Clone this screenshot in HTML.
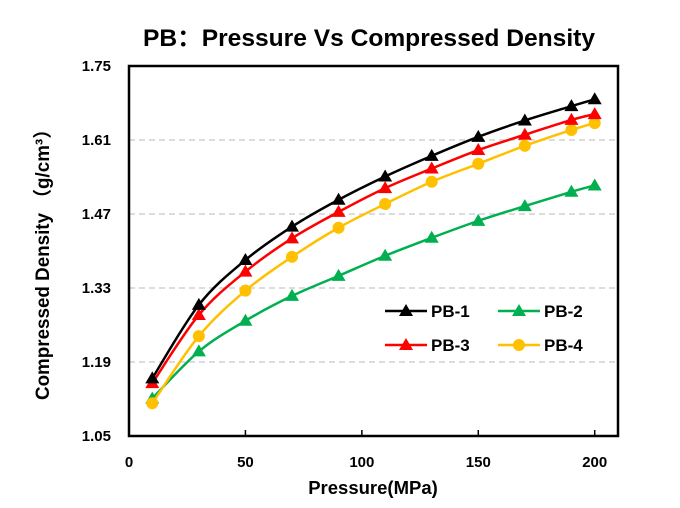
<!DOCTYPE html>
<html><head><meta charset="utf-8"><style>
body{margin:0;background:#fff}
svg text{font-family:"Liberation Sans","Noto Sans CJK SC",sans-serif;font-weight:bold}
</style></head><body>
<svg id="c" width="680" height="503"></svg>
<script>
const xValues=[10,30,50,70,90,110,130,150,170,190,200];
const pb1=[1.159,1.298,1.383,1.446,1.497,1.541,1.580,1.616,1.647,1.674,1.687];
const pb2=[1.121,1.210,1.268,1.315,1.353,1.391,1.425,1.457,1.485,1.512,1.524];
const pb3=[1.150,1.279,1.361,1.424,1.474,1.519,1.556,1.591,1.620,1.648,1.659];
const pb4=[1.112,1.239,1.325,1.389,1.444,1.489,1.531,1.565,1.599,1.629,1.642];
const xTicks=[0,50,100,150,200];
const yTicks=[1.05,1.19,1.33,1.47,1.61,1.75];
const NS="http://www.w3.org/2000/svg",svg=document.getElementById('c');
const L=129,R=618,T=66,B=436,xMax=210;
const X=v=>L+v/xMax*(R-L), Y=v=>B-(v-1.05)/0.70*(B-T);
function el(t,a,p){const e=document.createElementNS(NS,t);for(const k in a)e.setAttribute(k,a[k]);(p||svg).appendChild(e);return e;}
function txt(s,a){const e=el('text',a);e.textContent=s;return e;}
const t=txt('PB：Pressure Vs Compressed Density',{x:369,y:46,'text-anchor':'middle','font-size':24,textLength:452,lengthAdjust:'spacingAndGlyphs'});

yTicks.forEach(v=>{
 if(v>1.05&&v<1.75){const g=el('line',{x1:L,x2:R,y1:Y(v),y2:Y(v),stroke:'#d0d0d0','stroke-width':1.5,'stroke-dasharray':'6,4'});
 }
 const l=txt(v.toFixed(2),{x:111,y:Y(v)+5,'text-anchor':'end','font-size':15});
 
});
xTicks.forEach(v=>{
 const k=el('line',{x1:X(v),x2:X(v),y1:B,y2:B-6,stroke:'#000','stroke-width':1.5});
 
 const l=txt(String(v),{x:X(v),y:467,'text-anchor':'middle','font-size':15});
 
});
const fr=el('rect',{x:L,y:T,width:R-L,height:B-T,fill:'none',stroke:'#000','stroke-width':2.5});

const xt=txt('Pressure(MPa)',{x:373,y:494,'text-anchor':'middle','font-size':18.5});

const yt=txt('Compressed Density （g/cm³）',{x:0,y:0,'text-anchor':'middle','font-size':19,textLength:280,lengthAdjust:'spacingAndGlyphs',transform:'translate(49,260) rotate(-90)'});

function path(vals){const p=xValues.map((x,i)=>[X(x),Y(vals[i])]);let d='M'+p[0];
 for(let i=0;i<p.length-1;i++){const p0=p[i-1]||p[i],p1=p[i],p2=p[i+1],p3=p[i+2]||p2;
  d+=' C'+(p1[0]+(p2[0]-p0[0])/6)+','+(p1[1]+(p2[1]-p0[1])/6)+' '+(p2[0]-(p3[0]-p1[0])/6)+','+(p2[1]-(p3[1]-p1[1])/6)+' '+p2;}
 return d;}
function marker(x,y,c,shape){return shape==='tri'?el('polygon',{points:`${x},${y-7} ${x-7},${y+5} ${x+7},${y+5}`,fill:c}):el('circle',{cx:x,cy:y,r:6,fill:c});}
const series=[['PB-1',pb1,'#000','tri'],['PB-2',pb2,'#00b050','tri'],['PB-3',pb3,'#ff0000','tri'],['PB-4',pb4,'#ffc000','circ']];
[1,3,2,0].forEach(si=>{const [n,v,c,s]=series[si];
 const pa=el('path',{d:path(v),fill:'none',stroke:c,'stroke-width':2.5});
 
 xValues.forEach((x,i)=>{const m=marker(X(x),Y(v[i]),c,s);
  });
});
const leg=[[0,385,311],[1,498,311],[2,385,345],[3,498,345]];
leg.forEach(([si,x,y])=>{const [n,,c,s]=series[si];
 const g=el('g',{});
 el('line',{x1:x,x2:x+42,y1:y,y2:y,stroke:c,'stroke-width':2.5},g);
 const m=marker(x+21,y,c,s);g.appendChild(m);
 const tt=el('text',{x:x+46,y:y+6,'font-size':17},g);tt.textContent=n;});
</script>
</body></html>
